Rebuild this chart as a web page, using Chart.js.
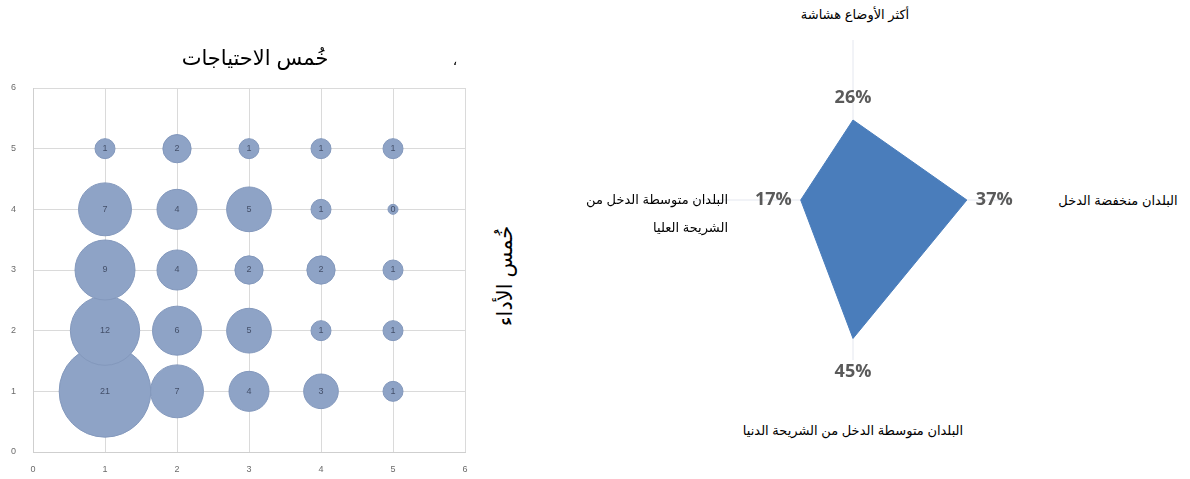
<!DOCTYPE html>
<html lang="ar">
<head>
<meta charset="utf-8">
<script src="https://cdn.jsdelivr.net/npm/chart.js@4/dist/chart.umd.min.js"></script>
<style>
  body { margin: 0; background: #fff; }
  #page { position: relative; width: 1190px; height: 479px; overflow: hidden; font-family: Arial, "DejaVu Sans", sans-serif; }
  canvas { position: absolute; }
  .lbl { position: absolute; color: #000; white-space: nowrap; direction: rtl; }
</style>
</head>
<body>
<div id="page">
  <canvas id="bubbleChart" width="490" height="479" style="left:0;top:0"></canvas>
  <canvas id="radarChart" width="400" height="360" style="left:653px;top:40px"></canvas>

  <!-- عناوين الرسم الفقاعي -->
  <div class="lbl" style="left:255px;top:58px;transform:translate(-50%,-50%);font-size:21px">خُمس الاحتياجات</div>
  <div class="lbl" style="left:455px;top:60px;transform:translate(-50%,-50%);font-size:14px">،</div>
  <div class="lbl" style="left:505px;top:276px;transform:translate(-50%,-50%) rotate(-90deg);font-size:21px">خُمس الأداء</div>

  <!-- تسميات الرسم الراداري -->
  <div class="lbl" id="cat0" style="left:855px;top:14px;transform:translate(-50%,-50%);font-size:13px"></div>
  <div class="lbl" id="cat1" style="left:1118px;top:200px;transform:translate(-50%,-50%);font-size:13px"></div>
  <div class="lbl" id="cat2" style="left:853px;top:430px;transform:translate(-50%,-50%);font-size:13px"></div>
  <div class="lbl" id="cat3" style="right:462px;top:186px;font-size:13px;line-height:28px;text-align:right"></div>
</div>

<script>
// === الرسم الفقاعي: عدد البلدان حسب خُمس الاحتياجات (x) وخُمس الأداء (y) ===
const needsQuintiles = [1, 2, 3, 4, 5];
const axisTicks = [0, 1, 2, 3, 4, 5, 6];

// عدد البلدان في كل خلية، صف لكل خُمس أداء
const perf1 = [21, 7, 4, 3, 1];
const perf2 = [12, 6, 5, 1, 1];
const perf3 = [9, 4, 2, 2, 1];
const perf4 = [7, 4, 5, 1, 0];
const perf5 = [1, 2, 1, 1, 1];
const perfRows = [perf1, perf2, perf3, perf4, perf5];

// === الرسم الراداري ===
const radarCategories = [
  "أكثر الأوضاع هشاشة",
  "البلدان منخفضة الدخل",
  "البلدان متوسطة الدخل من الشريحة الدنيا",
  "البلدان متوسطة الدخل من الشريحة العليا",
];
const radarShares = [26, 37, 45, 17];

// نقاط الفقاعات
const bubblePoints = [];
perfRows.forEach((row, i) => {
  row.forEach((count, j) => {
    bubblePoints.push({
      x: needsQuintiles[j],
      y: i + 1,
      r: Math.max(5, 10 * Math.sqrt(count)),
      count: count,
    });
  });
});

// كتابة العدد داخل كل فقاعة
const bubbleLabels = {
  id: "bubbleLabels",
  afterDatasetsDraw(chart) {
    const ctx = chart.ctx;
    const meta = chart.getDatasetMeta(0);
    ctx.save();
    ctx.font = "9px 'Liberation Sans', Arial";
    ctx.fillStyle = "#44506a";
    ctx.textAlign = "center";
    ctx.textBaseline = "middle";
    meta.data.forEach((el, i) => {
      ctx.fillText(bubblePoints[i].count, el.x, el.y);
    });
    ctx.restore();
  },
};

const gridColor = "#dadada";

new Chart(document.getElementById("bubbleChart"), {
  type: "bubble",
  data: {
    datasets: [
      {
        data: bubblePoints,
        backgroundColor: "#8ea3c6",
        borderColor: "#8398bc",
        borderWidth: 1,
      },
    ],
  },
  options: {
    responsive: false,
    animation: false,
    layout: { autoPadding: false, padding: { top: 88, right: 25, left: 0, bottom: 0 } },
    scales: {
      x: {
        type: "linear",
        min: 0,
        max: 6,
        afterBuildTicks: (s) => { s.ticks = axisTicks.map((v) => ({ value: v })); },
        afterFit: (s) => { s.height = 27; },
        ticks: { font: { size: 9 }, color: "#6b6b6b", padding: 12 },
        grid: { color: gridColor, drawTicks: false },
        border: { color: "#cfcfcf" },
      },
      y: {
        type: "linear",
        min: 0,
        max: 6,
        afterBuildTicks: (s) => { s.ticks = axisTicks.map((v) => ({ value: v })); },
        afterFit: (s) => { s.width = 33; },
        ticks: { font: { size: 9 }, color: "#6b6b6b", padding: 17 },
        grid: { color: gridColor, drawTicks: false },
        border: { color: "#cfcfcf" },
      },
    },
    plugins: {
      legend: { display: false },
      tooltip: { enabled: false },
    },
  },
  plugins: [bubbleLabels],
});

// النسب المئوية خارج رؤوس المضلع
const shareLabels = {
  id: "shareLabels",
  afterDatasetsDraw(chart) {
    const ctx = chart.ctx;
    const scale = chart.scales.r;
    ctx.save();
    ctx.font = "bold 18px 'Open Sans', sans-serif";
    ctx.fillStyle = "#5a5a5a";
    ctx.textAlign = "center";
    ctx.textBaseline = "middle";
    radarShares.forEach((v, i) => {
      const p = scale.getPointPositionForValue(i, v);
      const a = p.angle;
      const text = v + "%";
      const w = ctx.measureText(text).width;
      const x = p.x + Math.cos(a) * (w / 2 + 9);
      const y = p.y + Math.sin(a) * (Math.sin(a) < 0 ? 22 : 33);
      ctx.fillText(text, x, y);
    });
    ctx.restore();
  },
};

new Chart(document.getElementById("radarChart"), {
  type: "radar",
  data: {
    labels: radarCategories,
    datasets: [
      {
        data: radarShares,
        backgroundColor: "#4a7dbb",
        borderColor: "#4a7dbb",
        borderWidth: 1,
        pointRadius: 0,
        fill: true,
      },
    ],
  },
  options: {
    responsive: false,
    animation: false,
    layout: { padding: { left: 40, right: 40, bottom: 40 } },
    scales: {
      r: {
        min: 0,
        max: 52,
        ticks: { display: false },
        grid: { display: false },
        angleLines: { color: "#e4e7ef" },
        pointLabels: { display: false },
      },
    },
    plugins: {
      legend: { display: false },
      tooltip: { enabled: false },
    },
  },
  plugins: [shareLabels],
});

// أسماء الفئات كنصوص
document.getElementById("cat0").textContent = radarCategories[0];
document.getElementById("cat1").textContent = radarCategories[1];
document.getElementById("cat2").textContent = radarCategories[2];
document.getElementById("cat3").innerHTML = "البلدان متوسطة الدخل من<br>الشريحة العليا";
</script>
</body>
</html>
